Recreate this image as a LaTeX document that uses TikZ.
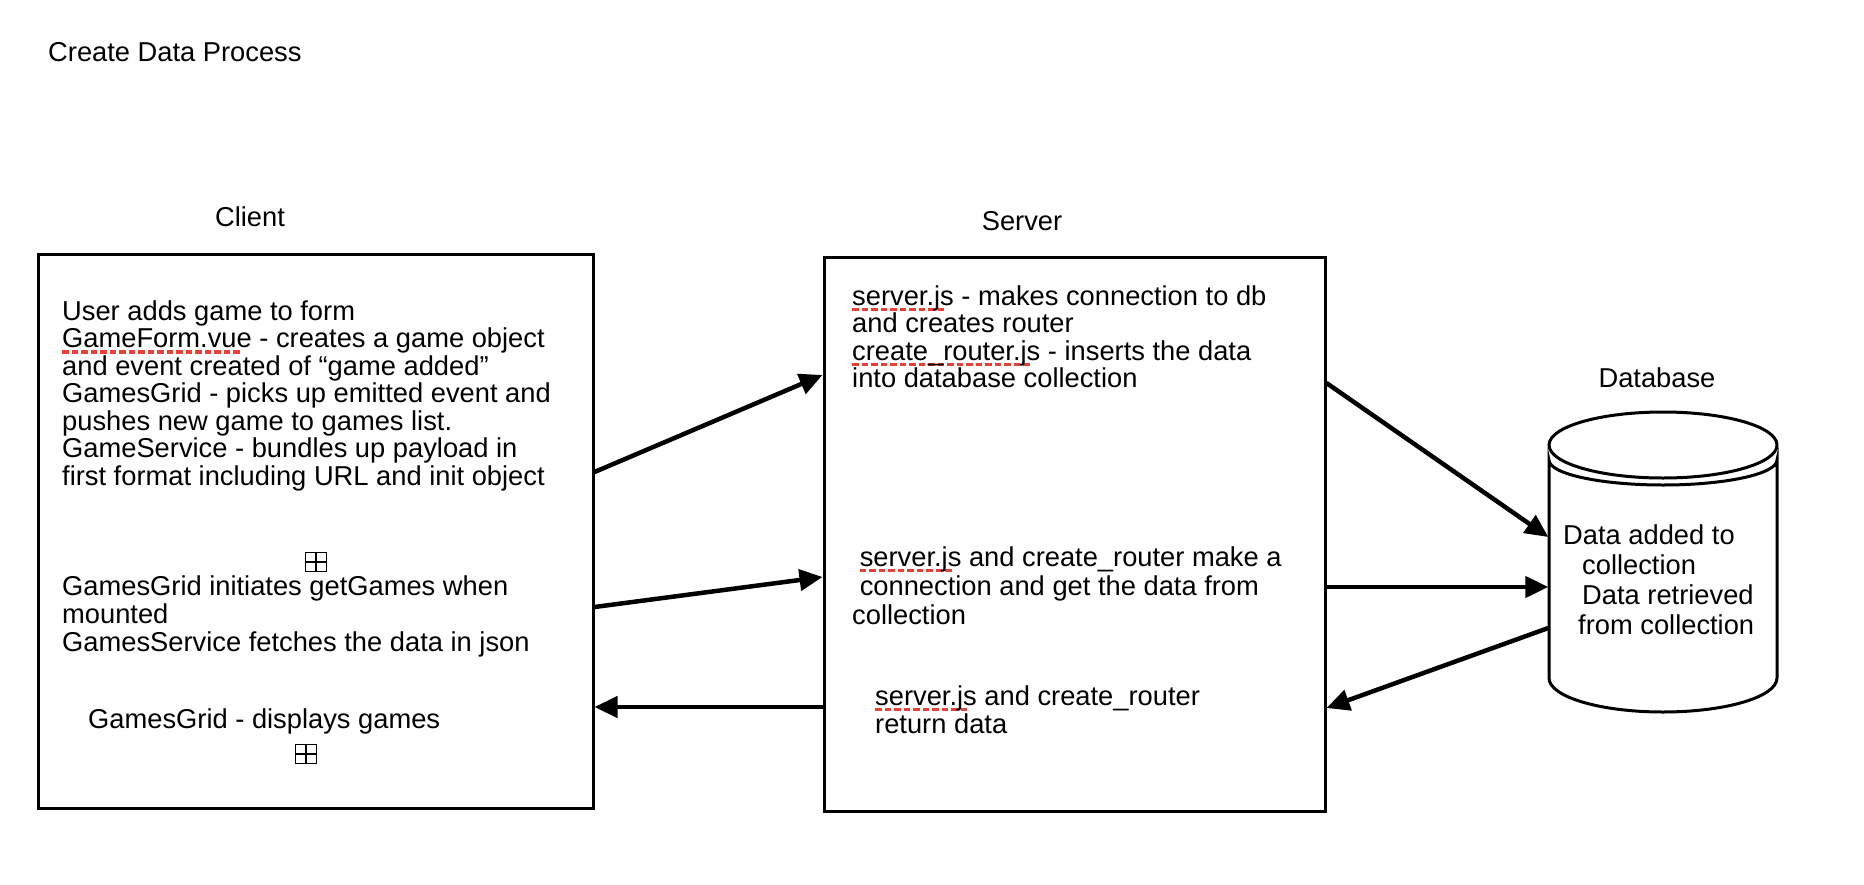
\documentclass[tikz,border=0pt]{standalone}
\usepackage{fontspec}
\setmainfont{Liberation Sans}
\usetikzlibrary{positioning,arrows.meta}
\tikzset{>={Triangle[length=23pt,width=21pt]}}
\definecolor{spellred}{RGB}{232,64,52}
% red spell-check dashes under a word
\newsavebox{\spellbox}
\newcommand{\spell}[1]{\sbox{\spellbox}{#1}\rlap{\color{spellred}\hbox to \wd\spellbox{\leaders\hbox{\rule[-6pt]{6.5pt}{3.5pt}\kern3pt}\hfill}}\usebox{\spellbox}}

\begin{document}
\begin{tikzpicture}[x=1pt,y=-1pt,
	font=\fontsize{27.3}{27.5}\selectfont,
	tier/.style={draw, line width=3pt, inner sep=0},
	note/.style={anchor=base west, align=left, inner sep=0},
	caption/.style={inner sep=0},
	flow/.style={->, line width=4.5pt},
	plusbox/.style={draw, line width=1.6pt, minimum width=21pt, minimum height=19pt, inner sep=0,
		path picture={\draw[line width=1.6pt] (path picture bounding box.north) -- (path picture bounding box.south)
			(path picture bounding box.west) -- (path picture bounding box.east);}}]

	\useasboundingbox (0,0) rectangle (1864,884);

	\node(title) [note] at (48,61) {Create Data Process};

	\node(client) [tier, minimum width=555pt, minimum height=554pt] at (315.5,531) {};
	\node(server) [tier, minimum width=501pt, minimum height=554pt] at (1074.5,534) {};
	\node(db) [inner sep=0, minimum width=229pt, minimum height=300pt] at (1663,562) {};

	\node(clientLbl) [caption, above=25.5pt of client, xshift=-65.5pt] {Client};
	\node(serverLbl) [caption, above=24.5pt of server, xshift=-52.5pt] {Server};
	\node(dbLbl) [caption, above=24pt of db, xshift=-6pt] {Database};

	% database cylinder
	\draw[line width=3pt] (1549,460) -- (1549,678) arc[start angle=180, end angle=360, x radius=114pt, y radius=34pt]
		-- (1777,460) arc[start angle=0, end angle=-180, x radius=114pt, y radius=25pt] -- cycle;
	\draw[line width=3pt] (1663,445) ellipse [x radius=114pt, y radius=33pt];

	% client texts (base = last line)
	\node(cAdd) [note] at (62,485) {User adds game to form\\
		\spell{GameForm.vue} - creates a game object\\
		and event created of “game added”\\
		GamesGrid - picks up emitted event and\\
		pushes new game to games list.\\
		GameService - bundles up payload in\\
		first format including URL and init object};
	\node(plusA) [plusbox] at (316,562) {};
	\node(cGet) [note, font=\fontsize{27.3}{28}\selectfont] at (62,651) {GamesGrid initiates getGames when\\
		mounted\\
		GamesService fetches the data in json};
	\node(cShow) [note] at (88,728) {GamesGrid - displays games};
	\node(plusB) [plusbox] at (306,754) {};

	% server texts
	\node(sAdd) [note] at (852,387.5) {\spell{server.js} - makes connection to db\\
		and creates router\\
		\spell{create\_router.js} - inserts the data\\
		into database collection};
	\node(sGet) [note, font=\fontsize{27.3}{29}\selectfont] at (852,624) {\ \spell{server.js} and create\_router make a\\
		\ connection and get the data from\\
		collection};
	\node(sRet) [note, font=\fontsize{27.3}{28}\selectfont] at (875,733) {\spell{server.js} and create\_router\\
		return data};

	% database text
	\node(dbTxt) [note, font=\fontsize{27.3}{29.7}\selectfont] at (1563,634) {Data added to\\
		\hspace*{19pt}collection\\
		\hspace*{19pt}Data retrieved\\
		\hspace*{15pt}from collection};

	\draw[flow] ([yshift=59pt]client.east) -- ([yshift=159pt]server.west);
	\draw[flow] ([yshift=-76pt]client.east) -- ([yshift=-43pt]server.west);
	\draw[flow] ([yshift=-173pt]server.west) -- ([yshift=-176pt]client.east);

	\draw[flow] ([yshift=151pt]server.east) -- ([yshift=25pt]db.west);
	\draw[flow] ([yshift=-53pt]server.east) -- ([yshift=-25pt]db.west);
	\draw[flow] ([yshift=-66pt]db.west) -- ([yshift=-174pt]server.east);

\end{tikzpicture}
\end{document}
